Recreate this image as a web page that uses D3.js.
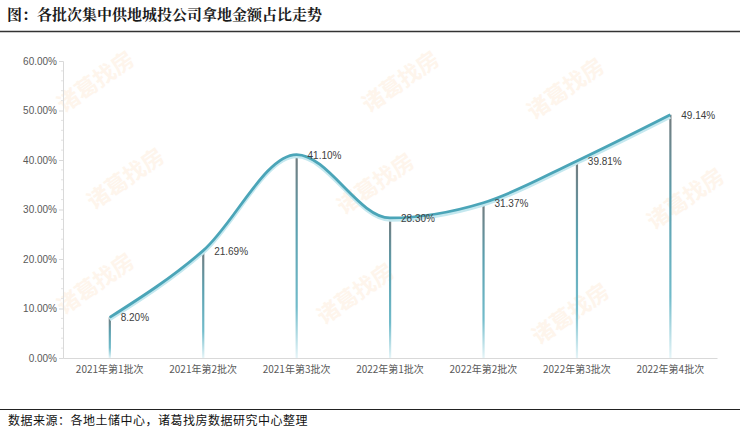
<!DOCTYPE html>
<html><head><meta charset="utf-8">
<script src="https://cdn.jsdelivr.net/npm/d3@7"></script>
<style>body{margin:0;background:#fff;}svg{display:block;}</style>
</head><body>
<svg id="c" width="740" height="438"></svg>
<script>
const categories = ["2021年第1批次","2021年第2批次","2021年第3批次","2022年第1批次","2022年第2批次","2022年第3批次","2022年第4批次"];
const values = [8.20, 21.69, 41.10, 28.30, 31.37, 39.81, 49.14];
const yTicks = [0, 10, 20, 30, 40, 50, 60];
const titleText = "图：各批次集中供地城投公司拿地金额占比走势";
const sourceText = "数据来源：各地土储中心，诸葛找房数据研究中心整理";
const watermark = "诸葛找房";

const svg = d3.select("#c");
const W = 740, H = 438;
const m = {left: 63, right: 23, top: 61, bottom: 80};
const x = d3.scaleBand().domain(categories).range([m.left, W - m.right]);
const y = d3.scaleLinear().domain([0, 60]).range([358, 61]);
const cx = d => x(d) + x.bandwidth() / 2;

// watermarks
const wmPos = [[100,88],[405,88],[570,95],[130,185],[380,190],[690,205],[100,290],[360,300],[575,320]];
svg.append("g").selectAll("text").data(wmPos).join("text")
  .attr("transform", d => `translate(${d[0]},${d[1]}) rotate(-35)`)
  .attr("text-anchor", "middle")
  .attr("font-family", "Noto Sans CJK SC")
  .attr("font-size", 22).attr("font-weight", "bold")
  .attr("fill", "#fef5ec")
  .text(watermark);

// title
svg.append("text").attr("x", 7).attr("y", 20)
  .attr("font-family", "Noto Serif CJK SC, Noto Sans CJK SC, serif")
  .attr("font-size", 15).attr("font-weight", "bold").attr("fill", "#1a1a1a")
  .text(titleText);
svg.append("line").attr("x1", 0).attr("x2", W).attr("y1", 31.5).attr("y2", 31.5)
  .attr("stroke", "#333").attr("stroke-width", 1.5);

// axes
const yAxis = d3.axisLeft(y).tickValues(yTicks).tickSize(4).tickFormat(d => d.toFixed(2) + "%");
const gy = svg.append("g").attr("transform", `translate(${m.left},0)`).call(yAxis);
gy.select(".domain").attr("stroke", "#d9d9d9");
gy.selectAll(".tick line").attr("stroke", "#d9d9d9");
gy.selectAll("text").attr("font-family", "Liberation Sans, Arial, sans-serif").attr("font-size", 10).attr("fill", "#595959").attr("x", -6);

// minor ticks
const minor = d3.range(0, 60, 2).filter(v => v % 10 !== 0);
svg.append("g").selectAll("line").data(minor).join("line")
  .attr("x1", m.left - 2).attr("x2", m.left).attr("y1", d => y(d)).attr("y2", d => y(d))
  .attr("stroke", "#e3e3e3");

const xAxis = d3.axisBottom(x).tickSize(0);
const gx = svg.append("g").attr("transform", `translate(0,${y(0)})`).call(xAxis);
gx.select(".domain").attr("stroke", "#d9d9d9");
gx.selectAll("text").attr("font-family", "Noto Sans CJK SC, sans-serif").attr("font-size", 10).attr("fill", "#595959").attr("dy", "1.2em");

// gradient for drop lines
const defs = svg.append("defs");
const grad = defs.append("linearGradient").attr("id", "drop").attr("x1", 0).attr("x2", 0).attr("y1", 0).attr("y2", 1);
grad.append("stop").attr("offset", "0%").attr("stop-color", "#737b7e");
grad.append("stop").attr("offset", "35%").attr("stop-color", "#5b9fae");
grad.append("stop").attr("offset", "75%").attr("stop-color", "#72bccb");
grad.append("stop").attr("offset", "100%").attr("stop-color", "#e6f5f8");

svg.append("g").selectAll("rect").data(values).join("rect")
  .attr("x", (d, i) => cx(categories[i]) - 1)
  .attr("y", d => y(d))
  .attr("width", 2.2)
  .attr("height", d => y(0) - y(d))
  .attr("fill", "url(#drop)");

// line
const pts = values.map((v, i) => [cx(categories[i]), y(v)]);
const line = d3.line().curve(d3.curveMonotoneX);
svg.append("path").attr("d", line(pts.map(p => [p[0], p[1] + 2.2])))
  .attr("fill", "none").attr("stroke", "#c4e8ef").attr("stroke-width", 3.2);
svg.append("path").attr("d", line(pts))
  .attr("fill", "none").attr("stroke", "#4ba5b8").attr("stroke-width", 2.8);

// labels
svg.append("g").selectAll("text").data(values).join("text")
  .attr("x", (d, i) => cx(categories[i]) + 11)
  .attr("y", d => y(d) + 4)
  .attr("font-family", "Liberation Sans, Arial, sans-serif").attr("font-size", 10).attr("fill", "#404040")
  .text(d => d.toFixed(2) + "%");

// footer
svg.append("line").attr("x1", 0).attr("x2", W).attr("y1", 409.5).attr("y2", 409.5)
  .attr("stroke", "#222").attr("stroke-width", 1.2);
svg.append("text").attr("x", 8).attr("y", 425)
  .attr("font-family", "Noto Sans CJK SC, sans-serif").attr("font-size", 12).attr("fill", "#111")
  .attr("letter-spacing", 0.5)
  .text(sourceText);
</script>
</body></html>
